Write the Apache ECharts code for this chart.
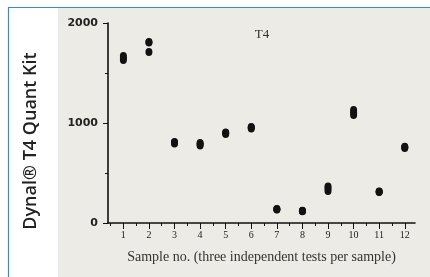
<!DOCTYPE html>
<html>
<head>
<meta charset="utf-8">
<script src="https://cdn.jsdelivr.net/npm/echarts@6/dist/echarts.min.js"></script>
<style>
html,body{margin:0;padding:0;background:#fff;}
#c{width:430px;height:277px;}
</style>
</head>
<body>
<div id="c"></div>
<script>
var samples = [1,2,3,4,5,6,7,8,9,10,11,12];
var sampleLabels = ['1','2','3','4','5','6','7','8','9','10','11','12'];
var test1 = [1630, 1810, 795, 775, 890, 945, 135, 118, 320, 1080, 310, 750];
var test2 = [1650, 1805, 805, 790, 900, 955, 138, 120, 345, 1105, 313, 757];
var test3 = [1670, 1710, 810, 800, 905, 960, 140, 122, 365, 1130, 316, 762];
var yTicks = [0, 1000, 2000];
var halfTicks = [0.5,1.5,2.5,3.5,4.5,5.5,6.5,7.5,8.5,9.5,10.5,11.5,12.5];

function pts(arr){ return samples.map(function(s,i){ return [s, arr[i]]; }); }

var chart = echarts.init(document.getElementById('c'));
var dotStyle = {color:'#121212', opacity:1};
function ser(arr){
  return {type:'scatter', data:pts(arr), symbol:'circle', symbolSize:[7,8], itemStyle:dotStyle, silent:true, xAxisIndex:0};
}
chart.setOption({
  animation:false,
  graphic:[
    {type:'rect', shape:{x:8.5,y:7.5,width:430,height:280}, style:{fill:'#fff', stroke:'#2e8fd3', lineWidth:1.2}, z:-10},
    {type:'rect', shape:{x:58,y:8,width:372,height:269}, style:{fill:'#ecebe6'}, z:-9},
    {type:'text', x:31, y:141, rotation:Math.PI/2, style:{text:'Dynal® T4 Quant Kit', font:'600 18px "Open Sans", sans-serif', fill:'#222', align:'center', verticalAlign:'middle'}, z:10},
    {type:'text', x:262, y:35, style:{text:'T4', font:'13px "Liberation Serif", serif', fill:'#333', align:'center', verticalAlign:'middle'}, z:10}
  ],
  grid:{left:108, top:23, right:15, bottom:54},
  xAxis:[
    {type:'value', min:0.4, max:12.4, splitLine:{show:false},
     axisLine:{lineStyle:{color:'#111', width:1.6}},
     axisTick:{customValues:samples, length:6, lineStyle:{color:'#111'}},
     axisLabel:{customValues:samples, formatter:function(v){return sampleLabels[v-1];}, color:'#222', fontSize:10, fontFamily:'"Liberation Serif", serif', margin:7},
     name:'Sample no. (three independent tests per sample)', nameLocation:'middle', nameGap:27,
     nameTextStyle:{fontFamily:'"Liberation Serif", serif', fontSize:14, color:'#333'}},
    {type:'value', min:0.4, max:12.4, position:'bottom', splitLine:{show:false},
     axisLine:{show:false},
     axisTick:{customValues:halfTicks, length:3, lineStyle:{color:'#111'}},
     axisLabel:{show:false}}
  ],
  yAxis:{type:'value', min:0, max:2000, interval:1000, splitLine:{show:false},
    axisLine:{show:true, lineStyle:{color:'#111', width:1.6}},
    axisTick:{show:true, length:5, lineStyle:{color:'#111'}},
    minorTick:{show:true, splitNumber:2, length:3, lineStyle:{color:'#111'}},
    axisLabel:{color:'#222', fontSize:11, fontWeight:'bold', fontFamily:'"DejaVu Sans", sans-serif', margin:10,
      customValues:yTicks, formatter:function(v){return String(v);}}},
  series:[ser(test1), ser(test2), ser(test3)]
});
</script>
</body>
</html>
